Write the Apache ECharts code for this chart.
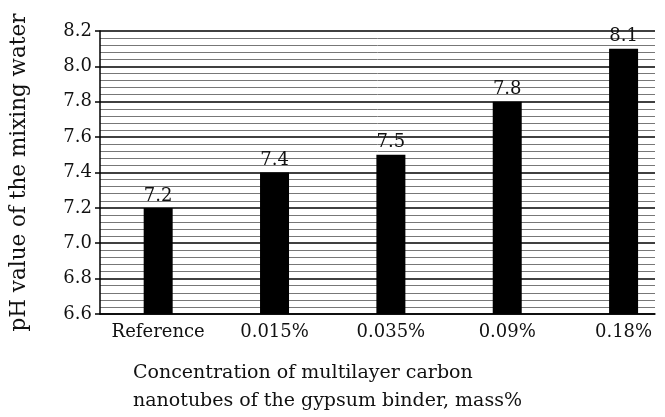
<!DOCTYPE html>
<html>
<head>
<meta charset="utf-8">
<script src="https://cdn.jsdelivr.net/npm/echarts@6/dist/echarts.min.js"></script>
<style>
  html, body { margin: 0; padding: 0; background: #fff; }
  #chart { width: 665px; height: 417px; }
</style>
</head>
<body>
<div id="chart"></div>
<script>
var categories = ['Reference', '0.015%', '0.035%', '0.09%', '0.18%'];
var phValues = [7.2, 7.4, 7.5, 7.8, 8.1];

var serif = 'DejaVu Serif';

function drawChart() {
    var chart = echarts.init(document.getElementById('chart'));

    var barData = phValues.map(function (v, i) { return [i, v]; });

    option = {
        backgroundColor: '#ffffff',
        animation: false,
        title: {
            text: 'Concentration of multilayer carbon\nnanotubes of the gypsum binder, mass%',
            left: 128,
            top: 354,
            textStyle: {
                fontFamily: serif,
                fontWeight: 'normal',
                fontSize: 19,
                lineHeight: 28,
                color: '#111'
            }
        },
        grid: {
            left: 100,
            right: 10,
            top: 31,
            bottom: 103
        },
        xAxis: {
            type: 'value',
            min: -0.5,
            max: 4.27,
            splitLine: { show: false },
            axisLine: { show: true, onZero: false, lineStyle: { color: '#000', width: 1.5 } },
            axisTick: { show: false },
            axisLabel: {
                customValues: [0, 1, 2, 3, 4],
                formatter: function (v) { return categories[Math.round(v)]; },
                fontFamily: serif,
                fontSize: 18,
                color: '#111',
                margin: 9
            }
        },
        yAxis: {
            type: 'value',
            min: 6.6,
            max: 8.2,
            interval: 0.2,
            name: 'pH value of the mixing water',
            nameLocation: 'middle',
            nameGap: 70,
            nameTextStyle: {
                fontFamily: serif,
                fontSize: 21.5,
                color: '#111'
            },
            axisLine: { show: true, onZero: false, lineStyle: { color: '#000', width: 1.5 } },
            axisTick: { show: true, length: 5, lineStyle: { color: '#000', width: 1.5 } },
            axisLabel: {
                formatter: function (v) { return v.toFixed(1); },
                fontFamily: serif,
                fontSize: 18,
                color: '#111',
                margin: 8
            },
            splitLine: { show: true, lineStyle: { color: '#000', width: 1.5 } },
            minorTick: { show: false, splitNumber: 5 },
            minorSplitLine: { show: true, lineStyle: { color: '#777', width: 1 } }
        },
        series: [
            {
                type: 'bar',
                data: barData,
                barWidth: 29,
                itemStyle: { color: '#000' },
                label: {
                    show: true,
                    position: 'top',
                    distance: 3,
                    formatter: function (p) { return p.value[1].toFixed(1); },
                    fontFamily: serif,
                    fontSize: 18,
                    color: '#111'
                }
            }
        ]
    };
    chart.setOption(option);
}

drawChart();
</script>
</body>
</html>
